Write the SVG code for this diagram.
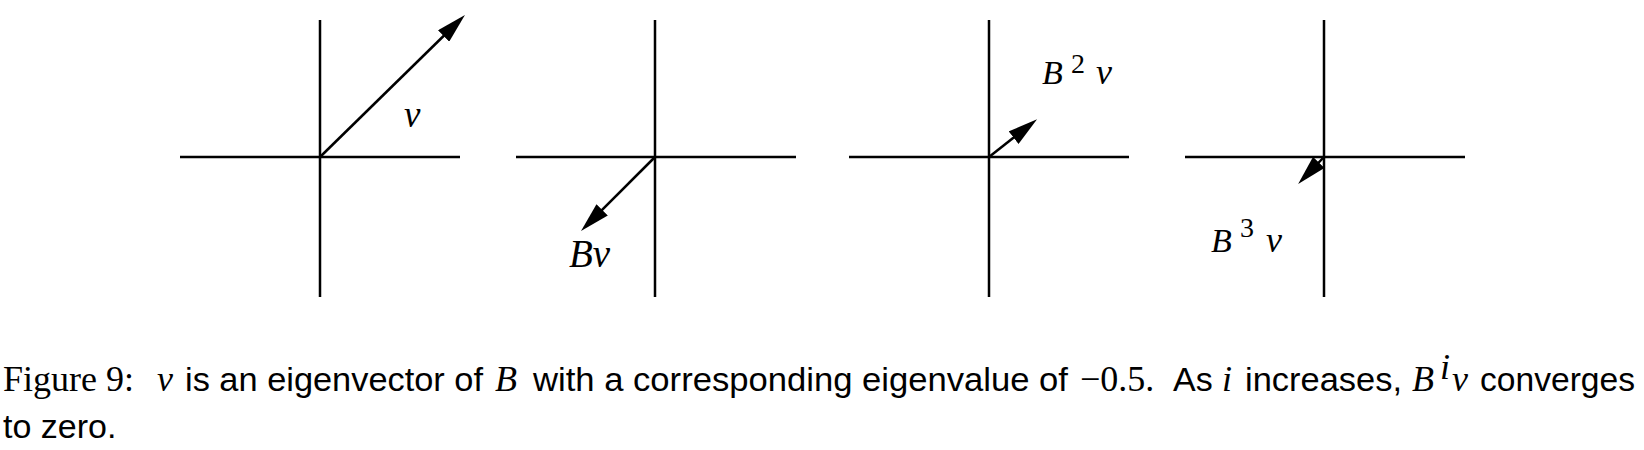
<svg xmlns="http://www.w3.org/2000/svg" width="1644" height="450" viewBox="0 0 1644 450">
<style>
.ax{stroke:#000;stroke-width:2.5;fill:none}
.vec{stroke:#000;stroke-width:2.5;fill:none;marker-end:url(#ah)}
.lbl{font-family:"Liberation Serif",serif;font-style:italic;fill:#000}
.sup{font-family:"Liberation Serif",serif;fill:#000}
.rm{font-family:"Liberation Serif",serif;font-size:36px;fill:#000}
.it{font-family:"Liberation Serif",serif;font-style:italic;font-size:36px;fill:#000}
.sn{font-family:"Liberation Sans",sans-serif;font-size:34px;fill:#000}
</style>
<defs>
<marker id="ah" markerUnits="userSpaceOnUse" markerWidth="30" markerHeight="16" refX="8" refY="7.5" orient="auto" viewBox="0 0 28 15">
<path d="M0,0 L28,7.5 L0,15 z" fill="#000"/>
</marker>
</defs>
<rect width="1644" height="450" fill="#fff"/>
<g id="panel1">
<line class="ax" x1="180" y1="157" x2="460" y2="157"/>
<line class="ax" x1="320" y1="20" x2="320" y2="297"/>
<text class="lbl" x="404" y="127" font-size="37">v</text>
</g>
<g id="panel2">
<line class="ax" x1="516" y1="157" x2="796" y2="157"/>
<line class="ax" x1="655" y1="20" x2="655" y2="297"/>
<text class="lbl" x="569" y="267" font-size="39">Bv</text>
</g>
<g id="panel3">
<line class="ax" x1="849" y1="157" x2="1129" y2="157"/>
<line class="ax" x1="989" y1="20" x2="989" y2="297"/>
<text class="lbl" x="1042" y="84" font-size="34">B</text>
<text class="sup" x="1071" y="73" font-size="28">2</text>
<text class="lbl" x="1096" y="84" font-size="36">v</text>
</g>
<g id="panel4">
<line class="ax" x1="1185" y1="157" x2="1465" y2="157"/>
<line class="ax" x1="1324" y1="20" x2="1324" y2="297"/>
<text class="lbl" x="1211" y="252" font-size="34">B</text>
<text class="sup" x="1240" y="237" font-size="28">3</text>
<text class="lbl" x="1266" y="252" font-size="36">v</text>
</g>
<g id="connectors">
<line class="vec" x1="320" y1="157" x2="449.7" y2="30"/>
<line class="vec" x1="655" y1="157" x2="596.1" y2="215.9"/>
<line class="vec" x1="989" y1="157" x2="1020.3" y2="132.4"/>
<line class="vec" x1="1324" y1="157" x2="1312.9" y2="168.6"/>
</g>
<g id="caption">
<text class="rm" x="3" y="391">Figure 9:</text>
<text class="it" x="157" y="391">v</text>
<text class="sn" x="185" y="391" textLength="298" lengthAdjust="spacingAndGlyphs">is an eigenvector of</text>
<text class="it" x="495" y="391">B</text>
<text class="sn" x="533" y="391" textLength="535" lengthAdjust="spacingAndGlyphs">with a corresponding eigenvalue of</text>
<text class="rm" x="1080" y="391">−0.5.</text>
<text class="sn" x="1173" y="391">As</text>
<text class="it" x="1222" y="391">i</text>
<text class="sn" x="1245" y="391" textLength="157" lengthAdjust="spacingAndGlyphs">increases,</text>
<text class="it" x="1412" y="391">B</text>
<text class="it" x="1440" y="379" font-size="22">i</text>
<text class="it" x="1452" y="391">v</text>
<text class="sn" x="1480" y="391" textLength="155" lengthAdjust="spacingAndGlyphs">converges</text>
<text class="sn" x="3" y="438">to zero.</text>
</g>
</svg>
